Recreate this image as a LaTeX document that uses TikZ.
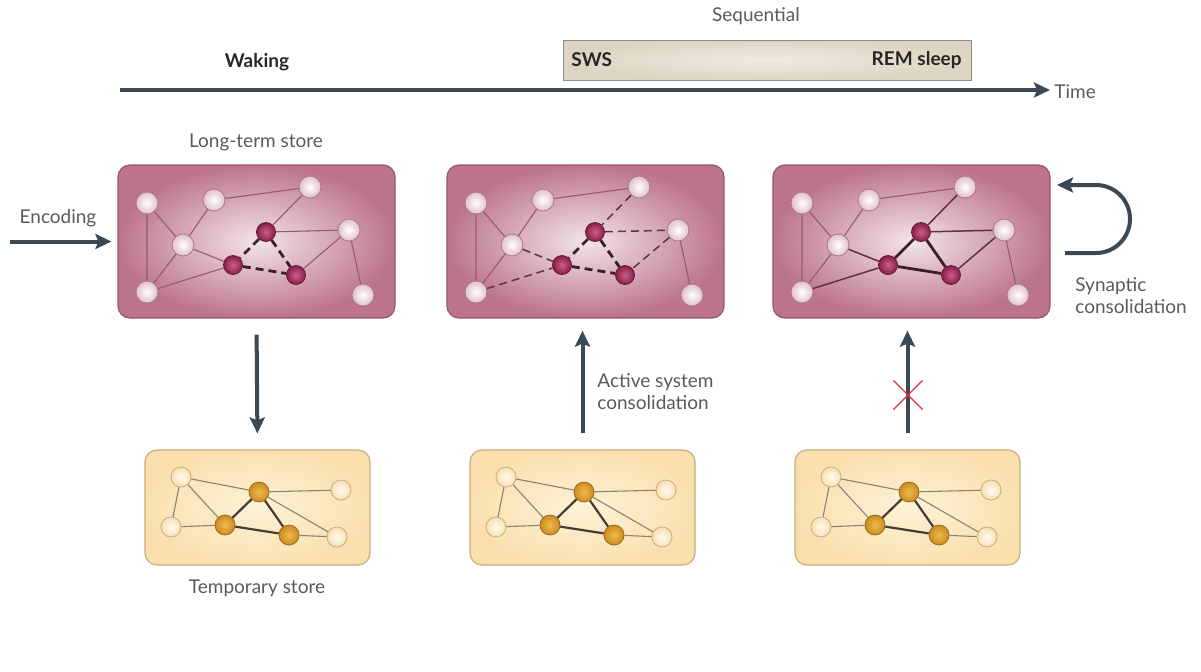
\documentclass[tikz,border=0pt]{standalone}
\usepackage{fontspec}
\setmainfont{Lato}
\usetikzlibrary{arrows.meta,shapes.misc}

\definecolor{ltsout}{RGB}{188,116,140}
\definecolor{ltsin}{RGB}{243,228,234}
\definecolor{ltsedge}{RGB}{150,85,108}
\definecolor{ltsthin}{RGB}{150,90,112}
\definecolor{ltsmid}{RGB}{95,50,68}
\definecolor{ltsthick}{RGB}{55,30,40}
\definecolor{darkin}{RGB}{205,95,135}
\definecolor{darkout}{RGB}{135,30,70}
\definecolor{tmpout}{RGB}{250,224,175}
\definecolor{tmpin}{RGB}{254,242,215}
\definecolor{tmpedge}{RGB}{200,172,125}
\definecolor{tmpthin}{RGB}{140,130,115}
\definecolor{tmpthick}{RGB}{70,60,50}
\definecolor{goldin}{RGB}{238,185,75}
\definecolor{goldout}{RGB}{205,140,35}
\definecolor{barin}{RGB}{240,234,224}
\definecolor{barout}{RGB}{222,212,195}
\definecolor{arrowgray}{RGB}{60,72,82}
\definecolor{labelgray}{RGB}{90,90,90}
\definecolor{crossred}{RGB}{225,50,60}

\tikzset{
  ltsstore/.style={draw=ltsedge, line width=0.6pt, rounded corners=6pt,
    inner color=ltsin, outer color=ltsout,
    minimum width=138.5pt, minimum height=76.5pt, inner sep=0pt},
  tmpstore/.style={draw=tmpedge, line width=0.6pt, rounded corners=6pt,
    inner color=tmpin, outer color=tmpout,
    minimum width=112.5pt, minimum height=57.5pt, inner sep=0pt},
  sleepbar/.style={draw=black!45, line width=0.5pt,
    inner color=barin, outer color=barout,
    minimum width=204pt, minimum height=20pt, inner sep=0pt},
  lnode/.style={circle, draw=ltsedge!80, line width=0.4pt, inner sep=0pt,
    minimum size=11pt, inner color=white, outer color=ltsout!45!white},
  dnode/.style={circle, draw=darkout!80!black, line width=0.4pt, inner sep=0pt,
    minimum size=9.5pt, inner color=darkin, outer color=darkout},
  ynode/.style={circle, draw=tmpedge, line width=0.4pt, inner sep=0pt,
    minimum size=10pt, inner color=white!70!tmpin, outer color=tmpout},
  onode/.style={circle, draw=goldout!75!black, line width=0.4pt, inner sep=0pt,
    minimum size=10pt, inner color=goldin, outer color=goldout},
  lthin/.style={draw=ltsthin, line width=0.55pt},
  lmid/.style={draw=ltsmid, line width=0.75pt},
  lmiddash/.style={draw=ltsmid, line width=0.75pt, dash pattern=on 4pt off 2.5pt},
  lthick/.style={draw=ltsthick, line width=1.4pt},
  lthickdash/.style={draw=ltsthick, line width=1.4pt, dash pattern=on 4pt off 2.5pt},
  tthin/.style={draw=tmpthin, line width=0.55pt},
  tthick/.style={draw=tmpthick, line width=1.1pt},
  bigarrow/.style={draw=arrowgray, line width=2pt,
    -{Stealth[length=8pt, width=7.5pt, inset=1.5pt]}},
  lbl/.style={text=labelgray, inner sep=0pt},
  phase/.style={text=black!85, font=\fontsize{9.5}{11}\selectfont\bfseries, inner sep=0pt}
}

\begin{document}
\begin{tikzpicture}[x=0.5pt,y=-0.5pt,font=\fontsize{9.5}{11}\selectfont]
\useasboundingbox (0,0) rectangle (1201,671);

\node[lbl] (seqtxt) at (756,16) {Sequential};
\node[sleepbar] (sleep) at (767,60) {};
\node[phase, anchor=west] (swstxt) at (571,60) {SWS};
\node[phase, anchor=east] (remtxt) at (962,60) {REM sleep};
\node[phase] (waketxt) at (257,62) {Waking};
\coordinate (tstart) at (120,90);
\coordinate (tend) at (1050,90);
\draw[bigarrow] (tstart) -- (tend);
\node[lbl, anchor=west] (timetxt) at (1054,92) {Time};

\node[lbl] (ltstxt) at (256,142) {Long-term store};
\node[ltsstore] (lts1) at (256.5,241.5) {};
\node[ltsstore] (lts2) at (585.5,241.5) {};
\node[ltsstore] (lts3) at (911.5,241.5) {};

\node[tmpstore] (tmp1) at (257.5,507.5) {};
\node[tmpstore] (tmp2) at (582.5,507.5) {};
\node[tmpstore] (tmp3) at (907.5,507.5) {};
\node[lbl] (tmptxt) at (257,588) {Temporary store};

\node[lbl] (enctxt) at (58,218) {Encoding};
\coordinate (encin) at (10,241.5);
\draw[bigarrow, shorten >=3pt] (encin) -- (lts1.west);

\draw[bigarrow, shorten <=8pt, shorten >=8pt] (lts1.south) -- (tmp1.north);
\draw[bigarrow, shorten <=8pt, shorten >=6pt] (tmp2.north) -- (tmp2.north |- lts2.south);
\node[lbl, anchor=west, align=left] (acttxt) at (597,392) {Active system\\consolidation};
\draw[bigarrow, shorten <=8pt, shorten >=6pt] (tmp3.north) -- (tmp3.north |- lts3.south);
\node[cross out, draw=crossred, line width=0.6pt, minimum size=14pt, inner sep=0pt] (block) at (908,395) {};

\coordinate (synfrom) at (1065,253);
\coordinate (synto) at (1057,185);
\draw[bigarrow] (synfrom) -- ++(31,0) arc[start angle=90, end angle=-90, radius=34] -- (synto);
\node[lbl, anchor=west, align=left] (syntxt) at (1075,296) {Synaptic\\consolidation};

\begin{scope}[shift={(118,165)}]
\node[lnode] (l1A) at (29,38) {};
\node[lnode] (l1B) at (96,35) {};
\node[lnode] (l1C) at (192,22) {};
\node[lnode] (l1D) at (65,80) {};
\node[dnode] (l1E) at (148,67) {};
\node[lnode] (l1F) at (231,65) {};
\node[dnode] (l1G) at (115,100) {};
\node[dnode] (l1H) at (178,110) {};
\node[lnode] (l1I) at (29,127) {};
\node[lnode] (l1J) at (245,130) {};
\end{scope}
\draw[lthin] (l1A) -- (l1D) (l1A) -- (l1I) (l1B) -- (l1D) (l1B) -- (l1C) (l1D) -- (l1I);
\draw[lthin] (l1D) -- (l1G) (l1I) -- (l1G) (l1C) -- (l1E) (l1E) -- (l1F) (l1F) -- (l1H) (l1F) -- (l1J);
\draw[lthickdash] (l1E) -- (l1G) (l1G) -- (l1H) (l1E) -- (l1H);

\begin{scope}[shift={(447,165)}]
\node[lnode] (l2A) at (29,38) {};
\node[lnode] (l2B) at (96,35) {};
\node[lnode] (l2C) at (192,22) {};
\node[lnode] (l2D) at (65,80) {};
\node[dnode] (l2E) at (148,67) {};
\node[lnode] (l2F) at (231,65) {};
\node[dnode] (l2G) at (115,100) {};
\node[dnode] (l2H) at (178,110) {};
\node[lnode] (l2I) at (29,127) {};
\node[lnode] (l2J) at (245,130) {};
\end{scope}
\draw[lthin] (l2A) -- (l2D) (l2A) -- (l2I) (l2B) -- (l2D) (l2B) -- (l2C) (l2D) -- (l2I) (l2F) -- (l2J);
\draw[lmiddash] (l2D) -- (l2G) (l2I) -- (l2G) (l2C) -- (l2E) (l2E) -- (l2F) (l2F) -- (l2H);
\draw[lthickdash] (l2E) -- (l2G) (l2G) -- (l2H) (l2E) -- (l2H);

\begin{scope}[shift={(773,165)}]
\node[lnode] (l3A) at (29,38) {};
\node[lnode] (l3B) at (96,35) {};
\node[lnode] (l3C) at (192,22) {};
\node[lnode] (l3D) at (65,80) {};
\node[dnode] (l3E) at (148,67) {};
\node[lnode] (l3F) at (231,65) {};
\node[dnode] (l3G) at (115,100) {};
\node[dnode] (l3H) at (178,110) {};
\node[lnode] (l3I) at (29,127) {};
\node[lnode] (l3J) at (245,130) {};
\end{scope}
\draw[lthin] (l3A) -- (l3D) (l3A) -- (l3I) (l3B) -- (l3D) (l3B) -- (l3C) (l3D) -- (l3I) (l3F) -- (l3J);
\draw[lmid] (l3D) -- (l3G) (l3I) -- (l3G) (l3C) -- (l3E) (l3E) -- (l3F) (l3F) -- (l3H);
\draw[lthick] (l3E) -- (l3G) (l3G) -- (l3H) (l3E) -- (l3H);

\begin{scope}[shift={(145,450)}]
\node[ynode] (t1a) at (36,27) {};
\node[onode] (t1b) at (114,42) {};
\node[ynode] (t1c) at (196,40) {};
\node[ynode] (t1d) at (26,77) {};
\node[onode] (t1e) at (80,75) {};
\node[onode] (t1f) at (144,85) {};
\node[ynode] (t1g) at (192,87) {};
\end{scope}
\draw[tthin] (t1a) -- (t1b) (t1a) -- (t1e) (t1a) -- (t1d) (t1d) -- (t1e) (t1b) -- (t1c) (t1b) -- (t1g) (t1f) -- (t1g);
\draw[tthick] (t1b) -- (t1e) (t1b) -- (t1f) (t1e) -- (t1f);

\begin{scope}[shift={(470,450)}]
\node[ynode] (t2a) at (36,27) {};
\node[onode] (t2b) at (114,42) {};
\node[ynode] (t2c) at (196,40) {};
\node[ynode] (t2d) at (26,77) {};
\node[onode] (t2e) at (80,75) {};
\node[onode] (t2f) at (144,85) {};
\node[ynode] (t2g) at (192,87) {};
\end{scope}
\draw[tthin] (t2a) -- (t2b) (t2a) -- (t2e) (t2a) -- (t2d) (t2d) -- (t2e) (t2b) -- (t2c) (t2b) -- (t2g) (t2f) -- (t2g);
\draw[tthick] (t2b) -- (t2e) (t2b) -- (t2f) (t2e) -- (t2f);

\begin{scope}[shift={(795,450)}]
\node[ynode] (t3a) at (36,27) {};
\node[onode] (t3b) at (114,42) {};
\node[ynode] (t3c) at (196,40) {};
\node[ynode] (t3d) at (26,77) {};
\node[onode] (t3e) at (80,75) {};
\node[onode] (t3f) at (144,85) {};
\node[ynode] (t3g) at (192,87) {};
\end{scope}
\draw[tthin] (t3a) -- (t3b) (t3a) -- (t3e) (t3a) -- (t3d) (t3d) -- (t3e) (t3b) -- (t3c) (t3b) -- (t3g) (t3f) -- (t3g);
\draw[tthick] (t3b) -- (t3e) (t3b) -- (t3f) (t3e) -- (t3f);
\end{tikzpicture}
\end{document}
